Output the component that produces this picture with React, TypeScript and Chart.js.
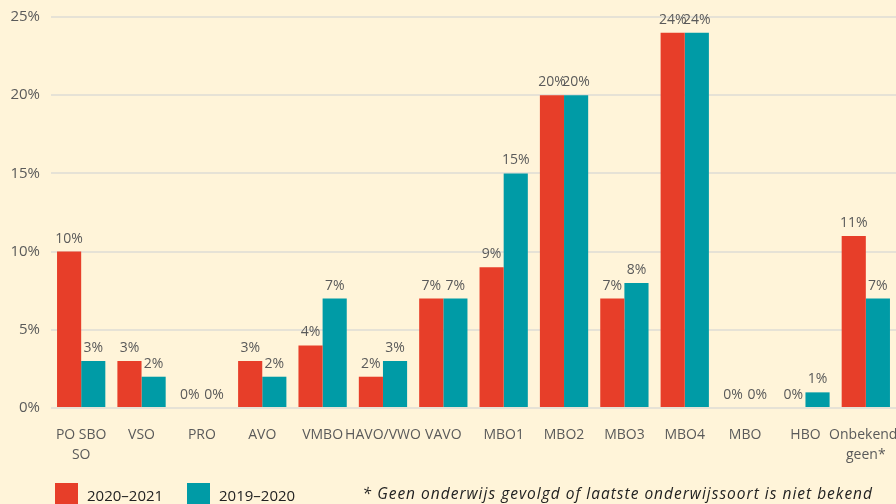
import React, { useEffect, useRef } from "react";
import { Chart, registerables } from "chart.js";

Chart.register(...registerables);

const categories: (string | string[])[] = [
  ["PO SBO", "SO"], "VSO", "PRO", "AVO", "VMBO", "HAVO/VWO", "VAVO",
  "MBO1", "MBO2", "MBO3", "MBO4", "MBO", "HBO", ["Onbekend/", "geen*"],
];
const series2020_2021 = [10, 3, 0, 3, 4, 2, 7, 9, 20, 7, 24, 0, 0, 11];
const series2019_2020 = [3, 2, 0, 2, 7, 3, 7, 15, 20, 8, 24, 0, 1, 7];
const yTicks = [0, 5, 10, 15, 20, 25];
const seriesLabels = ["2020–2021", "2019–2020"];
const footnote = "* Geen onderwijs gevolgd of laatste onderwijssoort is niet bekend";

const RED = "#E73E29";
const TEAL = "#009BA6";
const BG = "#FFF4D9";
const FONT = "'Open Sans', 'Noto Sans', sans-serif";

const bgPlugin = {
  id: "bg",
  beforeDraw(chart: any) {
    const { ctx, width, height } = chart;
    ctx.save();
    ctx.fillStyle = BG;
    ctx.fillRect(0, 0, width, height);
    ctx.restore();
  },
};

const labelPlugin = {
  id: "valueLabels",
  afterDatasetsDraw(chart: any) {
    const { ctx } = chart;
    ctx.save();
    ctx.font = `14px ${FONT}`;
    ctx.fillStyle = "#5a5a5a";
    ctx.textAlign = "center";
    ctx.textBaseline = "bottom";
    chart.data.datasets.forEach((ds: any, i: number) => {
      const meta = chart.getDatasetMeta(i);
      meta.data.forEach((bar: any, j: number) => {
        ctx.fillText(`${ds.data[j]}%`, bar.x, bar.y - 6);
      });
    });
    ctx.restore();
  },
};

const legendPlugin = {
  id: "customLegend",
  afterDraw(chart: any) {
    const { ctx } = chart;
    ctx.save();
    const colors = [RED, TEAL];
    const xs = [55, 187];
    ctx.font = `15px ${FONT}`;
    ctx.textBaseline = "alphabetic";
    ctx.textAlign = "left";
    seriesLabels.forEach((lbl, i) => {
      ctx.fillStyle = colors[i];
      ctx.fillRect(xs[i], 483, 23, 23);
      ctx.fillStyle = "#222";
      ctx.fillText(lbl, xs[i] + 32, 501);
    });
    ctx.font = `italic 15.5px ${FONT}`;
    (ctx as any).letterSpacing = "1px";
    ctx.textAlign = "right";
    ctx.fillText(footnote, 873, 499);
    ctx.restore();
  },
};

export default function App() {
  const ref = useRef<HTMLCanvasElement>(null);
  useEffect(() => {
    document.body.style.margin = "0";
    const chart = new Chart(ref.current!, {
      type: "bar",
      data: {
        labels: categories,
        datasets: [
          { label: seriesLabels[0], data: series2020_2021, backgroundColor: RED },
          { label: seriesLabels[1], data: series2019_2020, backgroundColor: TEAL },
        ],
      },
      options: {
        animation: false,
        responsive: false,
        layout: { padding: { top: 17, bottom: 36, left: 0, right: 0 } },
        plugins: { legend: { display: false }, tooltip: { enabled: false } },
        datasets: { bar: { categoryPercentage: 0.8, barPercentage: 1 } },
        scales: {
          x: {
            grid: { display: false },
            border: { display: false },
            ticks: {
              color: "#5a5a5a",
              font: { family: FONT, size: 14, lineHeight: 1.45 },
              maxRotation: 0,
              autoSkip: false,
              padding: 9,
            },
            afterFit(scale: any) {
              scale.height = 60;
              scale.paddingLeft = 0;
              scale.paddingRight = 0;
            },
          },
          y: {
            min: 0,
            max: 25,
            afterBuildTicks(scale: any) {
              scale.ticks = yTicks.map((v) => ({ value: v }));
            },
            grid: { color: "#e6e2d6", lineWidth: 2, drawTicks: false },
            border: { display: false },
            ticks: {
              color: "#5a5a5a",
              font: { family: FONT, size: 15 },
              padding: 11,
              callback: (v: any) => `${v}%`,
            },
            afterFit(scale: any) {
              scale.width = 51;
              scale.paddingTop = 0;
              scale.paddingBottom = 0;
            },
          },
        },
      },
      plugins: [bgPlugin, labelPlugin, legendPlugin],
    });
    return () => chart.destroy();
  }, []);
  return <canvas ref={ref} width={896} height={504} style={{ display: "block" }} />;
}
